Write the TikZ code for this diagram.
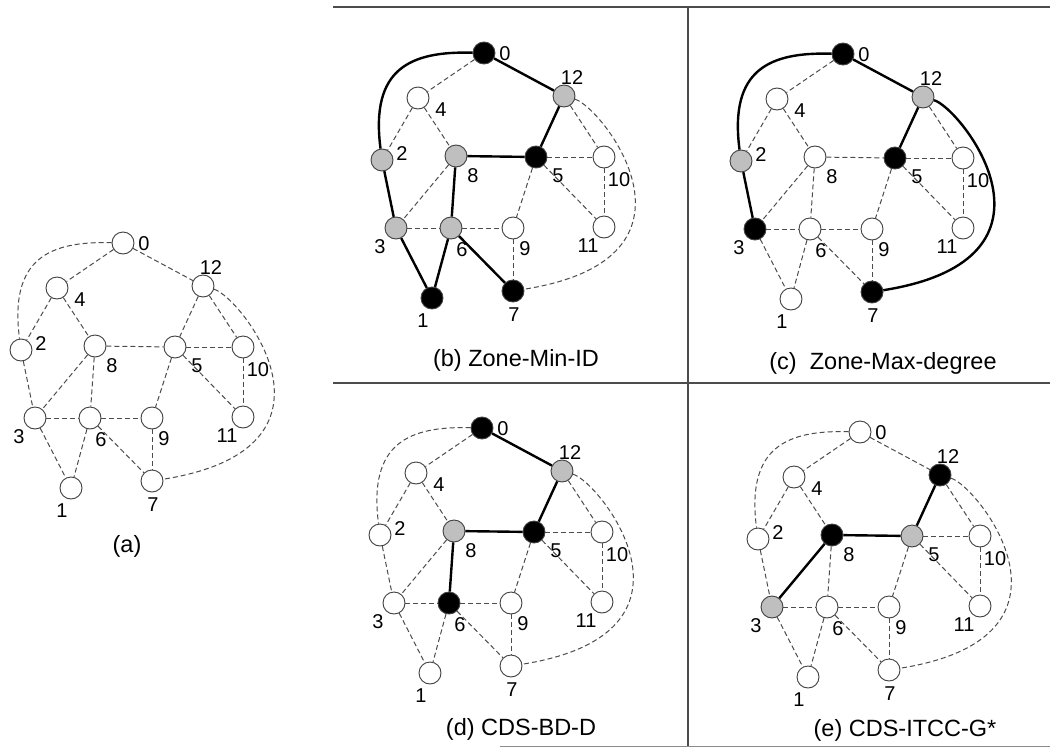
\documentclass[tikz,border=0pt]{standalone}
\usepackage{fontspec}
\setmainfont{Liberation Sans}
\begin{document}
\begin{tikzpicture}[x=1pt,y=-1pt]
\tikzset{
 vx/.style={circle, minimum size=22pt, inner sep=0pt, draw=black!75, line width=0.9pt},
 wn/.style={fill=white}, gn/.style={fill=black!25}, bn/.style={fill=black},
 de/.style={draw=black!70, line width=1pt, dash pattern=on 5pt off 3pt},
 te/.style={draw=black, line width=2.4pt},
 lab/.style={font=\fontsize{20}{20}\selectfont, inner sep=0pt},
 captxt/.style={font=\fontsize{23.5}{23.5}\selectfont, inner sep=0pt},
 frameline/.style={draw=black!70, line width=1.5pt},
 n0/.style={wn}, n1/.style={wn}, n2/.style={wn}, n3/.style={wn}, n4/.style={wn},
 n5/.style={wn}, n6/.style={wn}, n7/.style={wn}, n8/.style={wn}, n9/.style={wn},
 n10/.style={wn}, n11/.style={wn}, n12/.style={wn},
 e0-4/.style={de}, e0-12/.style={de}, e0-2/.style={de}, e4-2/.style={de}, e4-8/.style={de},
 e12-5/.style={de}, e12-10/.style={de}, e12-7/.style={de}, e2-3/.style={de}, e8-5/.style={de},
 e8-3/.style={de}, e8-6/.style={de}, e5-10/.style={de}, e5-9/.style={de}, e5-11/.style={de},
 e10-11/.style={de}, e3-6/.style={de}, e3-1/.style={de}, e6-1/.style={de}, e6-9/.style={de},
 e6-7/.style={de}, e9-7/.style={de}
}
\newcommand\gpanel[3]{%
\begin{scope}[shift={(#2,#3)}]
\node[vx,n0] (#1-0) at (0,0) {};
\node[vx,n4] (#1-4) at (-66,45) {};
\node[vx,n12] (#1-12) at (80,43) {};
\node[vx,n2] (#1-2) at (-102,107) {};
\node[vx,n8] (#1-8) at (-28,103) {};
\node[vx,n5] (#1-5) at (52,104) {};
\node[vx,n10] (#1-10) at (120,104) {};
\node[vx,n3] (#1-3) at (-88,175) {};
\node[vx,n6] (#1-6) at (-33,175) {};
\node[vx,n9] (#1-9) at (29,175) {};
\node[vx,n11] (#1-11) at (120,174) {};
\node[vx,n1] (#1-1) at (-52,245) {};
\node[vx,n7] (#1-7) at (29,238) {};
\node[lab] (#1-l0) at (21,1) {0};
\node[lab] (#1-l12) at (88,25) {12};
\node[lab] (#1-l4) at (-43,57) {4};
\node[lab] (#1-l2) at (-82,101) {2};
\node[lab] (#1-l8) at (-11,123) {8};
\node[lab] (#1-l5) at (74,123) {5};
\node[lab] (#1-l10) at (135,127) {10};
\node[lab] (#1-l3) at (-104,194) {3};
\node[lab] (#1-l6) at (-22,197) {6};
\node[lab] (#1-l9) at (41,196) {9};
\node[lab] (#1-l11) at (104,193) {11};
\node[lab] (#1-l1) at (-61,268) {1};
\node[lab] (#1-l7) at (30,262) {7};
\end{scope}
\draw[e0-4] (#1-0) -- (#1-4);
\draw[e0-12] (#1-0) -- (#1-12);
\draw[e0-2] (#1-0) .. controls +(-73,-2) and +(-12,-92) .. (#1-2);
\draw[e4-2] (#1-4) -- (#1-2);
\draw[e4-8] (#1-4) -- (#1-8);
\draw[e12-5] (#1-12) -- (#1-5);
\draw[e12-10] (#1-12) -- (#1-10);
\draw[e12-7] (#1-12) .. controls +(38,11) and +(208,-33) .. (#1-7);
\draw[e2-3] (#1-2) -- (#1-3);
\draw[e8-5] (#1-8) -- (#1-5);
\draw[e8-3] (#1-8) -- (#1-3);
\draw[e8-6] (#1-8) -- (#1-6);
\draw[e5-10] (#1-5) -- (#1-10);
\draw[e5-9] (#1-5) -- (#1-9);
\draw[e5-11] (#1-5) -- (#1-11);
\draw[e10-11] (#1-10) -- (#1-11);
\draw[e3-6] (#1-3) -- (#1-6);
\draw[e3-1] (#1-3) -- (#1-1);
\draw[e6-1] (#1-6) -- (#1-1);
\draw[e6-9] (#1-6) -- (#1-9);
\draw[e6-7] (#1-6) -- (#1-7);
\draw[e9-7] (#1-9) -- (#1-7);
}
\useasboundingbox (0,0) rectangle (1050,747);
\fill[white] (0,0) rectangle (1050,747);
% frame
\coordinate (ftl) at (333,7);
\coordinate (ftr) at (1050,7);
\coordinate (fvt) at (688,7);
\coordinate (fvb) at (688,747);
\coordinate (fml) at (333,383);
\coordinate (fmr) at (1050,383);
\coordinate (fbl) at (500,746);
\coordinate (fbr) at (1050,746);
\draw[frameline] (ftl) -- (ftr);
\draw[frameline] (fvt) -- (fvb);
\draw[frameline] (fml) -- (fmr);
\draw[frameline, draw=black!45, line width=1pt] (fbl) -- (fbr);
% (a)
\begin{scope}
\gpanel{a}{123}{243}
\end{scope}
\node[captxt] (capa) at (127,546) {(a)};
% (b)
\begin{scope}[n0/.style={bn}, n5/.style={bn}, n1/.style={bn}, n7/.style={bn},
  n12/.style={gn}, n2/.style={gn}, n8/.style={gn}, n3/.style={gn}, n6/.style={gn},
  e0-2/.style={te}, e0-12/.style={te}, e12-5/.style={te}, e8-5/.style={te}, e2-3/.style={te},
  e8-6/.style={te}, e3-1/.style={te}, e6-1/.style={te}, e6-7/.style={te}]
\gpanel{b}{484}{53}
\end{scope}
\node[captxt] (capb) at (516,360) {(b) Zone-Min-ID};
% (c)
\begin{scope}[n0/.style={bn}, n5/.style={bn}, n3/.style={bn}, n7/.style={bn},
  n12/.style={gn}, n2/.style={gn},
  e0-2/.style={te}, e0-12/.style={te}, e12-5/.style={te}, e2-3/.style={te}, e12-7/.style={te}]
\gpanel{c}{843}{54}
\end{scope}
\node[captxt] (capc) at (883,363) {(c)\ \ Zone-Max-degree};
% (d)
\begin{scope}[n0/.style={bn}, n5/.style={bn}, n6/.style={bn},
  n12/.style={gn}, n8/.style={gn},
  e0-12/.style={te}, e12-5/.style={te}, e8-5/.style={te}, e8-6/.style={te}]
\gpanel{d}{482}{428}
\end{scope}
\node[captxt] (capd) at (521,729) {(d) CDS-BD-D};
% (e)
\begin{scope}[n12/.style={bn}, n8/.style={bn},
  n5/.style={gn}, n3/.style={gn},
  e12-5/.style={te}, e8-5/.style={te}, e8-3/.style={te}]
\gpanel{e}{860}{432}
\end{scope}
\node[captxt] (cape) at (905,730) {(e) CDS-ITCC-G*};
\end{tikzpicture}
\end{document}
